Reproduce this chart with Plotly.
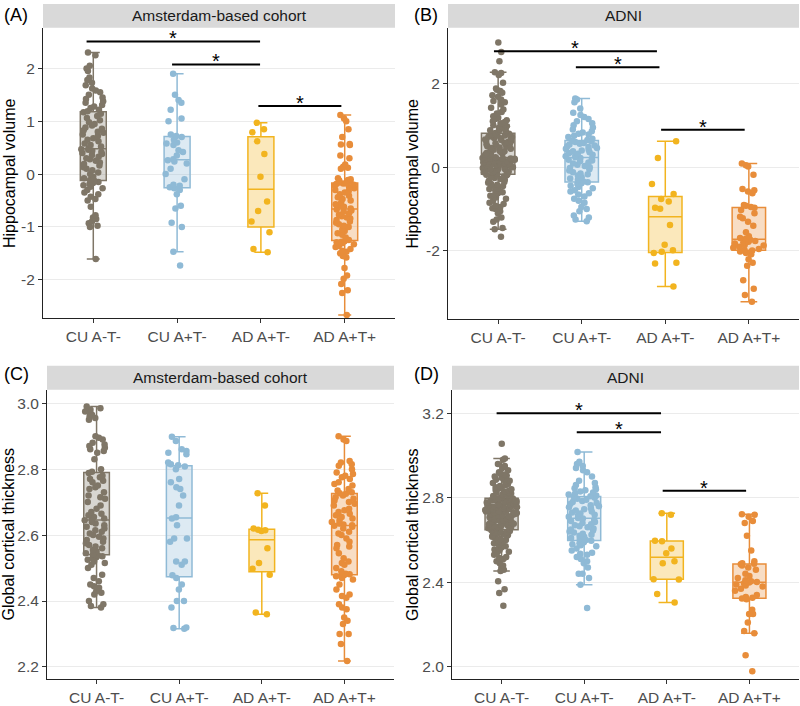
import plotly.graph_objects as go

# ---------------- data ----------------
GROUPS = ["CU A-T-", "CU A+T-", "AD A+T-", "AD A+T+"]
COLORS = ["#7f7667", "#8fbad6", "#f2b41f", "#e88d3a"]
FILLS = ["rgba(127,118,103,0.30)", "rgba(143,186,214,0.30)",
         "rgba(242,180,31,0.30)", "rgba(232,141,58,0.30)"]

PANEL_TITLES = ["Amsterdam-based cohort", "ADNI", "Amsterdam-based cohort", "ADNI"]
PANEL_LABELS = ["(A)", "(B)", "(C)", "(D)"]
Y_TITLES = ["Hippocampal volume", "Hippocampal volume",
            "Global cortical thickness", "Global cortical thickness"]

# (A) Amsterdam, hippocampal volume
A_cu_neg = [-1.61, -1.00, -0.98, -0.93, -0.90, -0.85, -0.82, -0.78, -0.62, -0.50, -0.47,
            -0.43, -0.38, -0.35, -0.30, -0.27, -0.24, -0.21, -0.19, -0.17, -0.15, -0.13,
            -0.11, -0.08, -0.05, 0.00, 0.03, 0.07, 0.10, 0.13, 0.16, 0.19, 0.22,
            0.25, 0.28, 0.30, 0.33, 0.36, 0.38, 0.40, 0.42, 0.44, 0.46, 0.47,
            0.49, 0.52, 0.55, 0.58, 0.62, 0.65, 0.68, 0.72, 0.75, 0.78, 0.80,
            0.83, 0.86, 0.88, 0.92, 0.95, 0.98, 1.02, 1.06, 1.10, 1.14, 1.17,
            1.19, 1.22, 1.25, 1.28, 1.31, 1.35, 1.38, 1.42, 1.45, 1.50, 1.55,
            1.58, 1.62, 1.68, 1.73, 1.78, 1.83, 1.95, 2.00, 2.05, 2.25, 2.30]
A_cu_pos = [-1.73, -1.47, -1.00, -0.92, -0.65, -0.60, -0.38, -0.30, -0.27,
            -0.25, -0.22, -0.20, -0.10, 0.00, 0.10, 0.20, 0.24, 0.26,
            0.28, 0.35, 0.42, 0.45, 0.55, 0.58, 0.60, 0.65, 0.70,
            0.72, 0.75, 1.00, 1.05, 1.22, 1.35, 1.40, 1.50, 1.90]
A_ad_tneg = [-1.48, -1.42, -1.10, -0.90, -0.70, -0.52, -0.05, 0.38, 0.62, 0.79, 0.85, 0.97]
A_ad_tpos = [-2.67, -2.25, -2.20, -2.08, -1.98, -1.92, -1.78, -1.58, -1.55, -1.50,
             -1.47, -1.45, -1.42, -1.38, -1.36, -1.33, -1.31, -1.29, -1.28, -1.27,
             -1.25, -1.20, -1.15, -1.12, -1.08, -1.05, -1.00, -0.98, -0.95, -0.92,
             -0.90, -0.87, -0.84, -0.82, -0.80, -0.77, -0.74, -0.71, -0.69, -0.67,
             -0.65, -0.62, -0.60, -0.57, -0.54, -0.50, -0.47, -0.44, -0.41, -0.38,
             -0.35, -0.32, -0.30, -0.27, -0.25, -0.22, -0.20, -0.19, -0.18, -0.18,
             -0.16, -0.14, -0.12, -0.11, -0.10, -0.08, 0.10, 0.12, 0.14, 0.18,
             0.30, 0.35, 0.55, 0.56, 0.57, 0.70, 0.85, 1.00, 1.05, 1.12]

# (B) ADNI, hippocampal volume
B_cu_neg = [-1.66, -1.48, -1.45, -1.30, -1.25, -1.20, -1.10, -1.05, -1.00, -0.98,
            -0.95, -0.92, -0.88, -0.85, -0.80, -0.75, -0.72, -0.68, -0.65, -0.62,
            -0.60, -0.57, -0.55, -0.52, -0.50, -0.47, -0.45, -0.42, -0.40, -0.37,
            -0.35, -0.32, -0.30, -0.28, -0.26, -0.24, -0.22, -0.20, -0.19, -0.18,
            -0.16, -0.15, -0.13, -0.12, -0.12, -0.10, -0.09, -0.07, -0.06, -0.05,
            -0.05, -0.03, -0.02, 0.00, 0.01, 0.01, 0.03, 0.04, 0.05, 0.06,
            0.06, 0.08, 0.09, 0.10, 0.10, 0.12, 0.13, 0.14, 0.15, 0.15,
            0.17, 0.18, 0.18, 0.19, 0.20, 0.20, 0.21, 0.21, 0.22, 0.22,
            0.24, 0.25, 0.27, 0.28, 0.30, 0.31, 0.33, 0.34, 0.36, 0.38,
            0.39, 0.41, 0.42, 0.44, 0.46, 0.47, 0.49, 0.50, 0.52, 0.54,
            0.55, 0.57, 0.58, 0.60, 0.62, 0.63, 0.65, 0.66, 0.68, 0.69,
            0.70, 0.72, 0.73, 0.74, 0.75, 0.76, 0.77, 0.78, 0.79, 0.80,
            0.82, 0.84, 0.85, 0.87, 0.88, 0.90, 0.92, 0.94, 0.96, 0.98,
            1.00, 1.02, 1.05, 1.08, 1.10, 1.12, 1.15, 1.18, 1.22, 1.28,
            1.32, 1.38, 1.42, 1.50, 1.55, 1.58, 1.62, 1.68, 1.72, 1.78,
            1.82, 1.85, 1.88, 2.02, 2.20, 2.25, 2.27, 2.53, 2.75, 2.98]
B_cu_pos = [-1.29, -1.25, -1.20, -1.15, -1.05, -1.00, -0.95, -0.85, -0.80, -0.75, -0.70,
            -0.65, -0.62, -0.58, -0.55, -0.50, -0.47, -0.44, -0.40, -0.38, -0.36,
            -0.34, -0.30, -0.27, -0.24, -0.20, -0.17, -0.15, -0.12, -0.08, -0.05, -0.02,
            0.00, 0.03, 0.06, 0.09, 0.11, 0.14, 0.16, 0.18, 0.20, 0.22,
            0.24, 0.26, 0.28, 0.30, 0.32, 0.34, 0.36, 0.38, 0.40, 0.42, 0.44,
            0.46, 0.48, 0.50, 0.52, 0.54, 0.56, 0.58, 0.60, 0.62, 0.63,
            0.65, 0.68, 0.72, 0.75, 0.78, 0.80, 0.83, 0.86, 0.90, 0.95, 1.00,
            1.05, 1.10, 1.15, 1.20, 1.25, 1.30, 1.40, 1.55, 1.62, 1.64]
B_ad_tneg = [-2.85, -2.30, -2.28, -2.05, -2.02, -1.98, -1.85, -1.38, -0.99, -0.97,
             -0.82, -0.76, -0.64, -0.40, 0.22, 0.62]
B_ad_tpos = [-3.21, -3.05, -2.90, -2.70, -2.35, -2.28, -2.20, -2.08, -2.05, -2.01, -1.99,
             -1.97, -1.95, -1.92, -1.90, -1.87, -1.85, -1.82, -1.80, -1.78, -1.76, -1.73,
             -1.71, -1.69, -1.65, -1.55, -1.40, -1.30, -1.22, -1.18, -1.10, -1.02, -0.97,
             -0.95, -0.92, -0.90, -0.62, -0.58, -0.55, -0.52, -0.18, 0.02, 0.05, 0.09]

# (C) Amsterdam, global cortical thickness
C_cu_neg = [2.380, 2.385, 2.390, 2.400, 2.420, 2.425, 2.430, 2.440, 2.445, 2.450, 2.460,
            2.470, 2.480, 2.500, 2.510, 2.515, 2.520, 2.525, 2.530, 2.533, 2.536, 2.538,
            2.542, 2.545, 2.550, 2.555, 2.560, 2.565, 2.570, 2.575, 2.580, 2.585, 2.590,
            2.595, 2.600, 2.605, 2.610, 2.615, 2.620, 2.625, 2.630, 2.635, 2.640, 2.645,
            2.647, 2.650, 2.655, 2.660, 2.665, 2.670, 2.680, 2.690, 2.700, 2.710, 2.715,
            2.720, 2.730, 2.740, 2.745, 2.750, 2.760, 2.765, 2.770, 2.775, 2.780, 2.788,
            2.792, 2.800, 2.830, 2.850, 2.855, 2.860, 2.865, 2.870, 2.875, 2.880, 2.890,
            2.895, 2.900, 2.950, 2.955, 2.960, 2.965, 2.970, 2.975, 2.980, 2.985, 2.990]
C_cu_pos = [2.316, 2.318, 2.320, 2.380, 2.400, 2.400, 2.435, 2.450, 2.470,
            2.478, 2.510, 2.520, 2.520, 2.580, 2.590, 2.590, 2.630, 2.650,
            2.654, 2.690, 2.720, 2.740, 2.745, 2.760, 2.770, 2.800, 2.808,
            2.812, 2.815, 2.820, 2.845, 2.850, 2.855, 2.860, 2.885, 2.898]
C_ad_tneg = [2.360, 2.365, 2.480, 2.498, 2.515, 2.560, 2.612, 2.615, 2.616, 2.620, 2.690, 2.727]
C_ad_tpos = [2.218, 2.270, 2.300, 2.300, 2.330, 2.340, 2.350, 2.375, 2.380, 2.390,
             2.410, 2.415, 2.420, 2.435, 2.450, 2.465, 2.470, 2.475, 2.477, 2.479,
             2.481, 2.483, 2.490, 2.500, 2.510, 2.515, 2.520, 2.530, 2.545, 2.560,
             2.565, 2.570, 2.580, 2.590, 2.600, 2.605, 2.610, 2.620, 2.625, 2.628,
             2.630, 2.632, 2.635, 2.640, 2.645, 2.650, 2.655, 2.660, 2.665, 2.670,
             2.675, 2.680, 2.690, 2.695, 2.700, 2.705, 2.710, 2.715, 2.720, 2.725,
             2.727, 2.730, 2.735, 2.740, 2.750, 2.755, 2.760, 2.770, 2.775, 2.780,
             2.785, 2.790, 2.800, 2.810, 2.815, 2.820, 2.825, 2.885, 2.890, 2.900]

# (D) ADNI, global cortical thickness
D_cu_neg = [2.289, 2.350, 2.367, 2.405, 2.453, 2.460, 2.470, 2.480, 2.490, 2.500,
            2.510, 2.515, 2.520, 2.530, 2.540, 2.545, 2.550, 2.555, 2.560, 2.565,
            2.570, 2.575, 2.580, 2.585, 2.590, 2.595, 2.600, 2.605, 2.610, 2.615,
            2.620, 2.622, 2.625, 2.628, 2.630, 2.635, 2.638, 2.640, 2.643, 2.646,
            2.650, 2.652, 2.654, 2.656, 2.658, 2.660, 2.662, 2.664, 2.666, 2.668,
            2.670, 2.672, 2.675, 2.677, 2.680, 2.682, 2.685, 2.688, 2.690, 2.692,
            2.695, 2.698, 2.700, 2.702, 2.705, 2.708, 2.710, 2.712, 2.715, 2.718,
            2.720, 2.722, 2.724, 2.726, 2.728, 2.730, 2.731, 2.732, 2.734, 2.735,
            2.737, 2.738, 2.740, 2.741, 2.742, 2.744, 2.745, 2.746, 2.748, 2.750,
            2.751, 2.752, 2.754, 2.755, 2.757, 2.758, 2.760, 2.762, 2.764, 2.765,
            2.767, 2.768, 2.770, 2.772, 2.774, 2.775, 2.777, 2.778, 2.780, 2.782,
            2.784, 2.785, 2.787, 2.788, 2.790, 2.791, 2.792, 2.793, 2.794, 2.796,
            2.798, 2.800, 2.802, 2.805, 2.808, 2.810, 2.812, 2.815, 2.818, 2.820,
            2.823, 2.826, 2.830, 2.833, 2.836, 2.840, 2.843, 2.846, 2.850, 2.855,
            2.860, 2.865, 2.870, 2.875, 2.880, 2.885, 2.890, 2.895, 2.900, 2.905,
            2.910, 2.915, 2.920, 2.930, 2.940, 2.950, 2.960, 2.980, 2.986, 3.055]
D_cu_pos = [2.278, 2.388, 2.420, 2.440, 2.440, 2.470, 2.490, 2.500, 2.510, 2.520, 2.530,
            2.535, 2.540, 2.550, 2.560, 2.570, 2.575, 2.580, 2.585, 2.590, 2.596,
            2.600, 2.605, 2.610, 2.615, 2.620, 2.625, 2.630, 2.635, 2.640, 2.645, 2.650,
            2.655, 2.660, 2.665, 2.670, 2.675, 2.680, 2.685, 2.690, 2.695, 2.702,
            2.704, 2.710, 2.715, 2.720, 2.725, 2.730, 2.735, 2.740, 2.745, 2.750, 2.755,
            2.760, 2.765, 2.770, 2.775, 2.780, 2.785, 2.790, 2.795, 2.800, 2.805,
            2.807, 2.810, 2.815, 2.820, 2.825, 2.830, 2.835, 2.840, 2.845, 2.850, 2.860,
            2.870, 2.880, 2.900, 2.920, 2.930, 2.940, 2.950, 2.960, 2.970, 3.016]
D_ad_tneg = [2.305, 2.345, 2.413, 2.415, 2.490, 2.500, 2.538, 2.560, 2.594, 2.596, 2.720, 2.727]
D_ad_tpos = [1.980, 2.055, 2.159, 2.170, 2.210, 2.250, 2.250, 2.270, 2.320, 2.323,
             2.327, 2.330, 2.340, 2.360, 2.370, 2.380, 2.385, 2.390, 2.395, 2.399,
             2.401, 2.405, 2.410, 2.420, 2.430, 2.440, 2.460, 2.470, 2.480, 2.486,
             2.488, 2.490, 2.500, 2.550, 2.620, 2.680, 2.690, 2.710, 2.720, 2.722]

# significance comparisons: (from category index, to category index, height)
SIG_A = [(-0.08, 1.99, 2.51), (0.94, 1.99, 2.075), (1.97, 2.96, 1.29)]
SIG_B = [(-0.05, 1.90, 2.77), (0.93, 1.93, 2.39), (1.95, 2.95, 0.895)]
SIG_C = []
SIG_D = [(-0.06, 1.93, 3.20), (0.91, 1.93, 3.11), (1.95, 2.96, 2.833)]

# axis ticks
TICKS_A = [-2, -1, 0, 1, 2]
TICKS_B = [-2, 0, 2]
TICKS_C = [2.2, 2.4, 2.6, 2.8, 3.0]
TICKS_D = [2.0, 2.4, 2.8, 3.2]

# ---------------- layout helpers ----------------
W, H = 800, 706
FONT = "Liberation Sans, Arial, sans-serif"


def px_x(p):
    return p / W


def px_y(p):
    return 1 - p / H


panels = [
    dict(data=[A_cu_neg, A_cu_pos, A_ad_tneg, A_ad_tpos], sig=SIG_A, ticks=TICKS_A,
         fmt="{:g}", yrange=[-2.73, 2.77], box_w=0.31,
         px=(43, 395), py=(28, 321), strip=(4, 28), lab=(2, 15), ytit=9),
    dict(data=[B_cu_neg, B_cu_pos, B_ad_tneg, B_ad_tpos], sig=SIG_B, ticks=TICKS_B,
         fmt="{:g}", yrange=[-3.63, 3.33], box_w=0.40,
         px=(448, 799), py=(28, 322), strip=(4, 28), lab=(412, 15), ytit=413),
    dict(data=[C_cu_neg, C_cu_pos, C_ad_tneg, C_ad_tpos], sig=SIG_C, ticks=TICKS_C,
         fmt="{:.1f}", yrange=[2.163, 3.041], box_w=0.31,
         px=(47, 394), py=(393, 685), strip=(369, 393), lab=(2, 377), ytit=8),
    dict(data=[D_cu_neg, D_cu_pos, D_ad_tneg, D_ad_tpos], sig=SIG_D, ticks=TICKS_D,
         fmt="{:.1f}", yrange=[1.942, 3.311], box_w=0.40,
         px=(452, 799), py=(393, 685), strip=(369, 393), lab=(412, 377), ytit=412.5),
]

fig = go.Figure()
shapes = []
annotations = []
layout = {}

for k, p in enumerate(panels):
    sfx = "" if k == 0 else str(k + 1)
    xa, ya = "x" + sfx, "y" + sfx
    for g, vals in enumerate(p["data"]):
        fig.add_trace(go.Box(
            y=vals, x=[GROUPS[g]] * len(vals), name=GROUPS[g],
            xaxis=xa, yaxis=ya,
            boxpoints="all", jitter=1.0, pointpos=0,
            width=p["box_w"], whiskerwidth=0.5,
            marker=dict(color=COLORS[g], size=6.5, opacity=1),
            line=dict(color=COLORS[g], width=1.5),
            fillcolor=FILLS[g], showlegend=False, hoverinfo="y",
        ))
    layout["xaxis" + sfx] = dict(
        domain=[px_x(p["px"][0]), px_x(p["px"][1])], anchor=ya,
        type="category", categoryorder="array", categoryarray=GROUPS,
        range=[-0.6, 3.6], showgrid=False, zeroline=False,
        showline=True, linecolor="#222222", linewidth=1.1,
        ticks="outside", ticklen=4, tickcolor="#333333", tickwidth=1,
        tickfont=dict(family=FONT, size=15.5, color="#4d4d4d"), fixedrange=True,
    )
    layout["yaxis" + sfx] = dict(
        domain=[px_y(p["py"][1]), px_y(p["py"][0])], anchor=xa,
        range=p["yrange"], showgrid=True, gridcolor="#ebebeb", gridwidth=1,
        zeroline=False, showline=True, linecolor="#222222", linewidth=1.1,
        ticks="outside", ticklen=4, tickcolor="#333333", tickwidth=1,
        tickvals=p["ticks"], ticktext=[p["fmt"].format(v) for v in p["ticks"]],
        tickfont=dict(family=FONT, size=15.5, color="#4d4d4d"), fixedrange=True,
    )
    # strip
    shapes.append(dict(type="rect", xref="paper", yref="paper",
                       x0=px_x(p["px"][0]), x1=px_x(p["px"][1]),
                       y0=px_y(p["strip"][1]), y1=px_y(p["strip"][0]),
                       fillcolor="#d9d9d9", line=dict(width=0), layer="below"))
    annotations.append(dict(xref="paper", yref="paper",
                            x=px_x((p["px"][0] + p["px"][1]) / 2),
                            y=px_y((p["strip"][0] + p["strip"][1]) / 2),
                            text=PANEL_TITLES[k], showarrow=False,
                            xanchor="center", yanchor="middle",
                            font=dict(family=FONT, size=15.5, color="#1a1a1a")))
    # panel label
    annotations.append(dict(xref="paper", yref="paper",
                            x=px_x(p["lab"][0]), y=px_y(p["lab"][1]),
                            text=PANEL_LABELS[k], showarrow=False,
                            xanchor="left", yanchor="middle",
                            font=dict(family=FONT, size=18, color="#000000")))
    # y title
    annotations.append(dict(xref="paper", yref="paper",
                            x=px_x(p["ytit"]), y=px_y((p["py"][0] + p["py"][1]) / 2),
                            text=Y_TITLES[k], showarrow=False, textangle=-90,
                            xanchor="center", yanchor="middle",
                            font=dict(family=FONT, size=16, color="#000000")))
    # significance bars
    for (a, b, h) in p["sig"]:
        shapes.append(dict(type="line", xref=xa, yref=ya, x0=a, x1=b, y0=h, y1=h,
                           line=dict(color="#000000", width=2)))
        annotations.append(dict(xref=xa, yref=ya, x=(a + b) / 2, y=h, text="*",
                                showarrow=False, xanchor="center", yanchor="middle",
                                yshift=3, font=dict(family=FONT, size=20, color="#000000")))

fig.update_layout(
    width=W, height=H, margin=dict(l=0, r=0, t=0, b=0),
    paper_bgcolor="white", plot_bgcolor="white",
    font=dict(family=FONT), shapes=shapes, annotations=annotations,
    boxmode="overlay", **layout,
)

fig.write_html("out.html")
